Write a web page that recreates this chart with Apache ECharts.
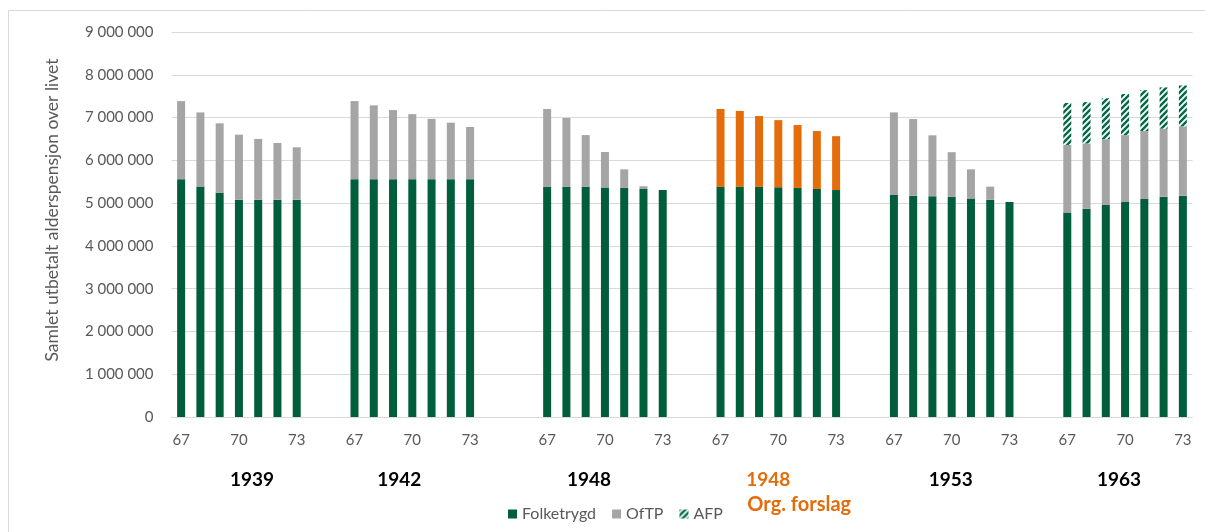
<!DOCTYPE html>
<html lang="no">
<head>
  <meta charset="UTF-8">
  <title>Samlet utbetalt alderspensjon</title>
  <script src="https://cdn.jsdelivr.net/npm/echarts@6/dist/echarts.min.js"></script>
  <style>
    html, body { margin: 0; padding: 0; background: #fff; }
    #chart { width: 1205px; height: 532px; }
  </style>
</head>
<body>
<div id="chart"></div>
<script>
  // alder ved uttak, og kullene som vises
  const ages = ['67', '68', '69', '70', '71', '72', '73']
  const cohorts = ['1939', '1942', '1948', '1948', '1953', '1963']
  const gapsAfter = [2, 3, 2, 2, 2] // tomme kategorier mellom kullene

  // verdier per kull, kr
  const folketrygd = [
    [5560000, 5390000, 5240000, 5080000, 5080000, 5080000, 5080000],
    [5560000, 5560000, 5560000, 5560000, 5560000, 5560000, 5560000],
    [5380000, 5380000, 5380000, 5365000, 5355000, 5330000, 5305000],
    [5380000, 5380000, 5380000, 5370000, 5355000, 5330000, 5305000],
    [5190000, 5175000, 5160000, 5145000, 5110000, 5075000, 5025000],
    [4780000, 4870000, 4955000, 5025000, 5095000, 5150000, 5175000]
  ]
  const oftp = [
    [1825000, 1730000, 1625000, 1520000, 1420000, 1325000, 1225000],
    [1825000, 1725000, 1615000, 1520000, 1410000, 1320000, 1220000],
    [1820000, 1610000, 1210000, 830000, 435000, 65000, 0],
    null,
    [1930000, 1790000, 1425000, 1045000, 680000, 310000, 0],
    [1580000, 1525000, 1540000, 1565000, 1590000, 1590000, 1620000]
  ]
  const orgForslag = [null, null, null,
    [1820000, 1775000, 1655000, 1570000, 1470000, 1355000, 1260000],
    null, null]
  const afp = [null, null, null, null, null,
    [980000, 965000, 955000, 960000, 955000, 965000, 955000]]

  // flat kategori-akse med mellomrom mellom kullene
  let categories = [], ftData = [], oftpData = [], orgData = [], afpData = [], midIdx = []
  cohorts.forEach((c, g) => {
    ages.forEach((a, i) => {
      if (i === 3) midIdx.push(categories.length)
      categories.push(g + '-' + a)
      ftData.push(folketrygd[g][i])
      oftpData.push(oftp[g] ? oftp[g][i] : null)
      orgData.push(orgForslag[g] ? orgForslag[g][i] : null)
      afpData.push(afp[g] ? afp[g][i] : null)
    })
    if (g < gapsAfter.length) {
      for (let k = 0; k < gapsAfter[g]; k++) {
        categories.push('gap-' + g + '-' + k)
        ftData.push(null); oftpData.push(null); orgData.push(null); afpData.push(null)
      }
    }
  })

  // skravert mønster for AFP
  const hatch = document.createElement('canvas')
  hatch.width = 6; hatch.height = 6
  const hc = hatch.getContext('2d')
  hc.fillStyle = '#ffffff'; hc.fillRect(0, 0, 6, 6)
  hc.strokeStyle = '#006b45'; hc.lineWidth = 2.4
  hc.beginPath()
  hc.moveTo(-1, 7); hc.lineTo(7, -1)
  hc.moveTo(-4, 4); hc.lineTo(4, -4)
  hc.moveTo(2, 10); hc.lineTo(10, 2)
  hc.stroke()

  const font = 'Lato, "Noto Sans", sans-serif'
  const gray = '#595959'
  const fmt = v => String(v).replace(/\B(?=(\d{3})+(?!\d))/g, ' ')

  let myChart = echarts.init(document.getElementById('chart'))
  let option = {
    animation: false,
    textStyle: { fontFamily: font },
    grid: { left: 171.5, right: 12.5, top: 32, bottom: 115, containLabel: false },
    legend: {
      data: ['Folketrygd', 'OfTP', 'AFP'],
      left: 503, top: 501,
      itemWidth: 9, itemHeight: 9, itemGap: 16,
      icon: 'rect',
      textStyle: { color: gray, fontSize: 16, fontFamily: font }
    },
    xAxis: {
      type: 'category',
      data: categories,
      axisLine: { lineStyle: { color: '#d9d9d9' } },
      axisTick: { show: false },
      axisLabel: {
        interval: 0,
        margin: 16,
        color: gray, fontSize: 15,
        formatter: v => {
          const a = v.split('-')[1]
          return (v.startsWith('gap') || !['67', '70', '73'].includes(a)) ? '' : a
        }
      }
    },
    yAxis: {
      type: 'value',
      min: 0, max: 9000000, interval: 1000000,
      name: 'Samlet utbetalt alderspensjon over livet',
      nameLocation: 'middle', nameGap: 110,
      nameTextStyle: { color: gray, fontSize: 17.5, padding: [0, 0, 0, 29] },
      axisLine: { show: false },
      axisTick: { show: false },
      axisLabel: { color: gray, fontSize: 15, margin: 18, formatter: fmt },
      splitLine: { lineStyle: { color: '#d9d9d9' } }
    },
    series: [
      { name: 'Folketrygd', type: 'bar', stack: 'sum', barWidth: 8, data: ftData,
        itemStyle: { color: '#005e3c' } },
      { name: 'OfTP', type: 'bar', stack: 'sum', barWidth: 8, data: oftpData,
        itemStyle: { color: '#a5a5a5' } },
      { name: 'Org. forslag', type: 'bar', stack: 'sum', barWidth: 8, data: orgData,
        itemStyle: { color: '#e46c0a' } },
      { name: 'AFP', type: 'bar', stack: 'sum', barWidth: 8, data: afpData,
        itemStyle: { color: { image: hatch, repeat: 'repeat' } } }
    ]
  }
  myChart.setOption(option)

  // kull-etiketter under aksen, plassert via aksens skala
  const nudge = [13, -13, -16, -10, -1, -6]
  let texts = [{
    type: 'rect', silent: true,
    shape: { x: 8.5, y: 10.5, width: 1210, height: 540 },
    style: { fill: null, stroke: '#d9d9d9', lineWidth: 1 }
  }]
  cohorts.forEach((c, g) => {
    const x = myChart.convertToPixel({ xAxisIndex: 0 }, midIdx[g]) + nudge[g]
    const orange = g === 3
    texts.push({
      type: 'text', x: x, y: 480,
      style: { text: c, fill: orange ? '#e46c0a' : '#000', font: 'bold 19px ' + font,
        align: 'center', verticalAlign: 'middle' }
    })
    if (orange) {
      texts.push({
        type: 'text', x: x - 21, y: 505,
        style: { text: 'Org. forslag', fill: '#e46c0a', font: 'bold 20px ' + font,
          align: 'left', verticalAlign: 'middle' }
      })
    }
  })
  myChart.setOption({ graphic: texts })
</script>
</body>
</html>
